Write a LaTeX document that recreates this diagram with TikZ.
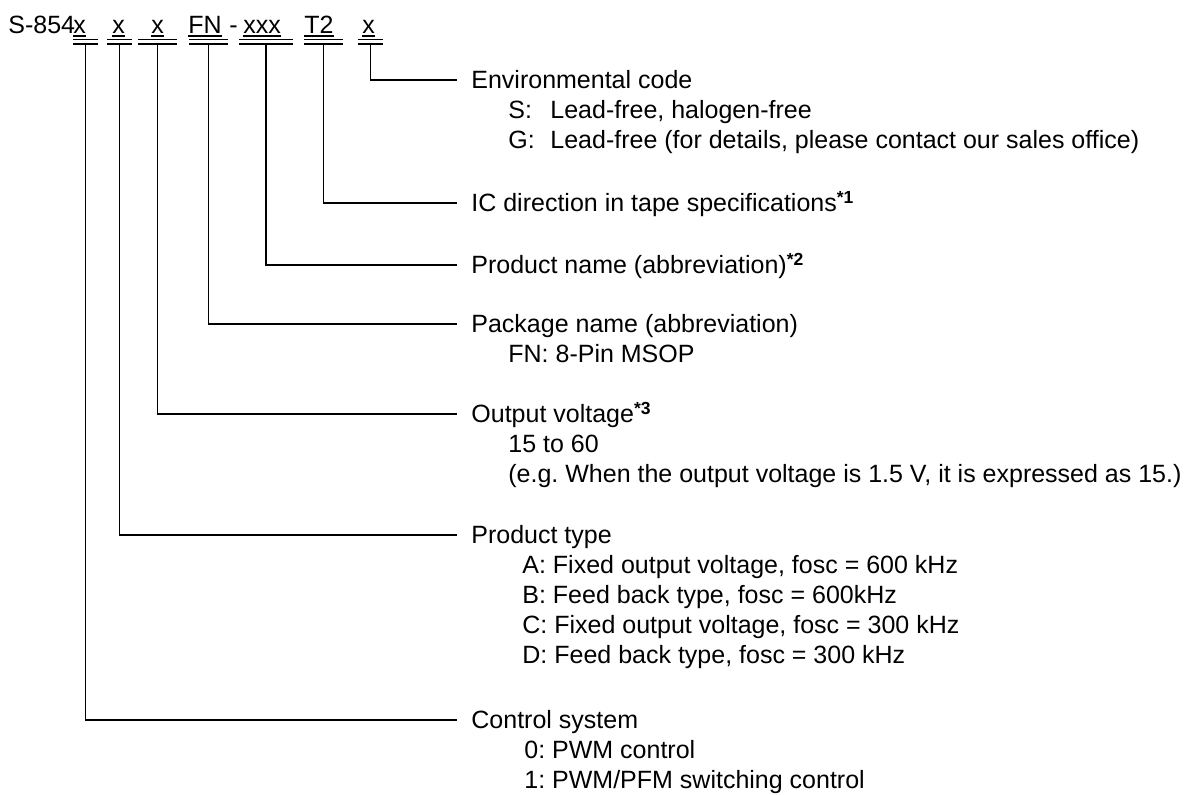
\documentclass[tikz,border=0pt]{standalone}
\usepackage{fontspec}
\setmainfont{Liberation Sans}
\usetikzlibrary{positioning}
\frenchspacing

\tikzset{
  title/.style={anchor=west, inner sep=0pt, text height=8.95pt, text depth=0pt},
  entry/.style={title},
  code/.style={anchor=base west, inner sep=0pt},
  bar/.style={line width=0.75pt},
  lead/.style={line width=0.9pt},
}
\newcommand{\fnmark}[1]{\textsuperscript{\bfseries *#1}}

\begin{document}
\begin{tikzpicture}[x=0.5pt, y=-0.5pt, every node/.style={font=\fontsize{12.5}{15}\selectfont}]
  \useasboundingbox (0,0) rectangle (1190,794);

  % part number
  \node[code] (pre) at (8,33) {S-854};
  \node[code] (c1) at (73,33) {x};
  \node[code] (c2) at (112,33) {x};
  \node[code] (c3) at (151,33) {x};
  \node[code] (c4) at (188,33) {FN};
  \node[code] (c5) at (229,33) {-};
  \node[code] (c6) at (243,33) {xxx};
  \node[code] (c7) at (304,33) {T2};
  \node[code] (c8) at (362,33) {x};
  \foreach \n in {c1,c2,c3,c4,c6,c7,c8}
    \draw[line width=0.6pt] ([yshift=-1.5pt]\n.base west) -- ([yshift=-1.5pt]\n.base east);

  % double bars under each field
  \foreach \a/\b/\n in {73/98/b1,107/132/b2,138/177/b3,189/228/b4,239/293/b5,304/343/b6,358/383/b7} {
    \draw[bar] (\a,39.5) -- (\b,39.5);
    \draw[bar] (\a,44) -- (\b,44);
    \coordinate (\n) at ({(\a+\b)/2},44);
  }

  % descriptions
  \node[title] (env) at (471,80) {Environmental code};
  \node[entry] (envS) at (508,110) {\makebox[21pt][l]{S:}Lead-free, halogen-free};
  \node[entry] (envG) at (508,140) {\makebox[21pt][l]{G:}Lead-free (for details, please contact our sales office)};

  \node[title] (tape) at (471,203) {IC direction in tape specifications\fnmark{1}};

  \node[title] (prod) at (471,265) {Product name (abbreviation)\fnmark{2}};

  \node[title] (pkg) at (471,324) {Package name (abbreviation)};
  \node[entry] (pkgFN) at (508,354) {FN: 8-Pin MSOP};

  \node[title] (vout) at (471,414) {Output voltage\fnmark{3}};
  \node[entry] (voutR) at (508,444) {15 to 60};
  \node[entry] (voutE) at (508,474) {(e.g. When the output voltage is 1.5 V, it is expressed as 15.)};

  \node[title] (type) at (471,535) {Product type};
  \node[entry] (typeA) at (522,565) {A: Fixed output voltage, fosc = 600 kHz};
  \node[entry] (typeB) at (522,595) {B: Feed back type, fosc = 600kHz};
  \node[entry] (typeC) at (522,625) {C: Fixed output voltage, fosc = 300 kHz};
  \node[entry] (typeD) at (522,655) {D: Feed back type, fosc = 300 kHz};

  \node[title] (ctrl) at (471,720) {Control system};
  \node[entry] (ctrl0) at (524,750) {0: PWM control};
  \node[entry] (ctrl1) at (524,780) {1: PWM/PFM switching control};

  % leaders
  \draw[lead] (b7) |- ([xshift=-7pt]env.west);
  \draw[lead] (b6) |- ([xshift=-7pt]tape.west);
  \draw[lead] (b5) |- ([xshift=-7pt]prod.west);
  \draw[lead] (b4) |- ([xshift=-7pt]pkg.west);
  \draw[lead] (b3) |- ([xshift=-7pt]vout.west);
  \draw[lead] (b2) |- ([xshift=-7pt]type.west);
  \draw[lead] (b1) |- ([xshift=-7pt]ctrl.west);
\end{tikzpicture}
\end{document}
